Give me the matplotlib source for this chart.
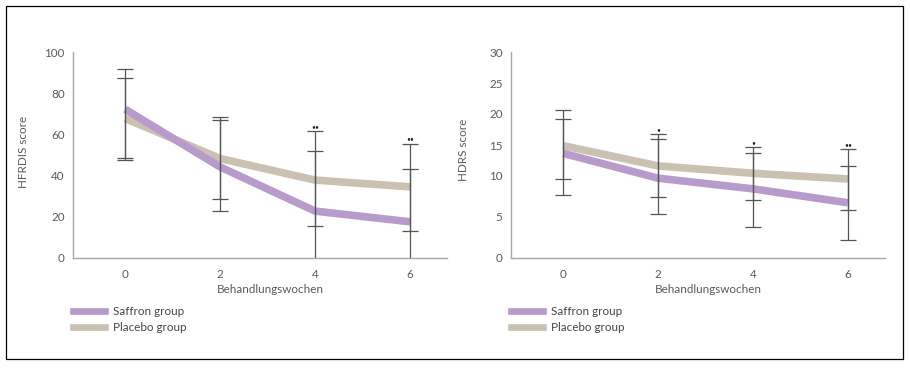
import numpy as np
import matplotlib
matplotlib.use("Agg")
import matplotlib.pyplot as plt
from matplotlib.lines import Line2D
from matplotlib.patches import Rectangle

plt.rcParams['font.family'] = ['Lato', 'DejaVu Sans']

# Data
weeks = [0, 2, 4, 6]
groups = ["Saffron group", "Placebo group"]

# HFRDIS score
hfrdis_saffron = [72.3, 44.2, 22.7, 17.5]
hfrdis_placebo = [67.8, 48.3, 37.8, 34.5]
hfrdis_saffron_low = [47.5, 22.7, -16.0, -20.0]
hfrdis_saffron_high = [92.0, 67.0, 61.6, 55.6]
hfrdis_placebo_low = [48.6, 28.5, 15.4, 13.0]
hfrdis_placebo_high = [87.7, 68.3, 52.0, 43.0]
hfrdis_marks = ["", "", "••", "••"]

# HDRS score
hdrs_saffron = [13.65, 9.7, 8.4, 6.7]
hdrs_placebo = [14.9, 11.6, 10.4, 9.6]
hdrs_saffron_low = [7.6, 5.3, 3.8, 2.1]
hdrs_saffron_high = [19.15, 16.0, 13.7, 11.6]
hdrs_placebo_low = [9.6, 7.4, 7.0, 5.85]
hdrs_placebo_high = [20.5, 16.7, 14.6, 14.3]
hdrs_marks = ["", "•", "•", "••"]

# the HDRS axis in the original is not linear (0-10 stretched)
hdrs_ticks = [0, 5, 10, 15, 20, 25, 30]
hdrs_tick_pos = [0, 41, 82, 112.7, 144.4, 174.4, 205.4]

SAFFRON = "#b99bcb"
PLACEBO = "#cac1b3"
ERR = "#555555"
AXIS = "#a8a8a8"
TEXT = "#5a5a5a"
FS = 8.4


def draw_panel(ax, saffron, placebo, s_lo, s_hi, p_lo, p_hi, marks, ylabel):
    ax.plot(weeks, placebo, color=PLACEBO, lw=5.5, solid_capstyle='butt', zorder=2)
    ax.plot(weeks, saffron, color=SAFFRON, lw=5.5, solid_capstyle='butt', zorder=2)

    for mean, lo, hi in [(saffron, s_lo, s_hi), (placebo, p_lo, p_hi)]:
        mean = np.array(mean)
        yerr = [mean - np.array(lo), np.array(hi) - mean]
        ax.errorbar(weeks, mean, yerr=yerr, fmt='none', ecolor=ERR,
                    elinewidth=0.9, capsize=5.8, capthick=0.9, zorder=3)

    top = np.maximum(s_hi, p_hi)
    for x, y, m in zip(weeks, top, marks):
        if m:
            ax.annotate(m, (x, y), xytext=(0, 0.8), textcoords='offset points',
                        ha='center', va='bottom', fontsize=4.8, color="#222222")

    ax.set_xlim(-1.1, 6.78)
    ax.set_xticks(weeks)
    ax.tick_params(length=0, labelsize=FS, labelcolor=TEXT)
    ax.tick_params(axis='y', pad=6)
    ax.tick_params(axis='x', pad=8)
    for side in ['top', 'right']:
        ax.spines[side].set_visible(False)
    for side in ['left', 'bottom']:
        ax.spines[side].set_color(AXIS)
        ax.spines[side].set_linewidth(1.0)

    ax.set_xlabel("Behandlungswochen", fontsize=FS, color=TEXT)
    ax.xaxis.set_label_coords(0.527, -0.128)
    ax.set_ylabel(ylabel, fontsize=FS, color=TEXT)

    handles = [Line2D([0], [0], color=SAFFRON, lw=4.8),
               Line2D([0], [0], color=PLACEBO, lw=4.8)]
    ax.legend(handles, groups, loc='upper left', bbox_to_anchor=(0.0, -0.237),
              frameon=False, fontsize=FS, handlelength=2.74, handletextpad=0.66,
              labelspacing=0.42, borderpad=0, borderaxespad=0, labelcolor="#444444")


fig = plt.figure(figsize=(9.1, 3.68), dpi=100)
ax1 = fig.add_axes([0.0802, 0.2997, 0.411, 0.558])
ax2 = fig.add_axes([0.5615, 0.2997, 0.411, 0.558])

draw_panel(ax1, hfrdis_saffron, hfrdis_placebo, hfrdis_saffron_low, hfrdis_saffron_high,
           hfrdis_placebo_low, hfrdis_placebo_high, hfrdis_marks, "HFRDIS score")
ax1.set_ylim(0, 100)
ax1.set_yticks([0, 20, 40, 60, 80, 100])
ax1.yaxis.set_label_coords(-0.118, 0.516)

draw_panel(ax2, hdrs_saffron, hdrs_placebo, hdrs_saffron_low, hdrs_saffron_high,
           hdrs_placebo_low, hdrs_placebo_high, hdrs_marks, "HDRS score")
ax2.set_yscale('function', functions=(lambda v: np.interp(v, hdrs_ticks, hdrs_tick_pos),
                                      lambda p: np.interp(p, hdrs_tick_pos, hdrs_ticks)))
ax2.set_ylim(0, 30)
ax2.set_yticks(hdrs_ticks)
ax2.set_yticklabels([str(t) for t in hdrs_ticks])
ax2.yaxis.set_minor_locator(matplotlib.ticker.NullLocator())
ax2.yaxis.set_label_coords(-0.113, 0.524)

# outer frame
fig.patches.append(Rectangle((6 / 910, 1 - 359.3 / 368), 896.7 / 910, 353.8 / 368,
                             transform=fig.transFigure, fill=False,
                             edgecolor='black', lw=0.9))

fig.savefig("out.png", dpi=100)
